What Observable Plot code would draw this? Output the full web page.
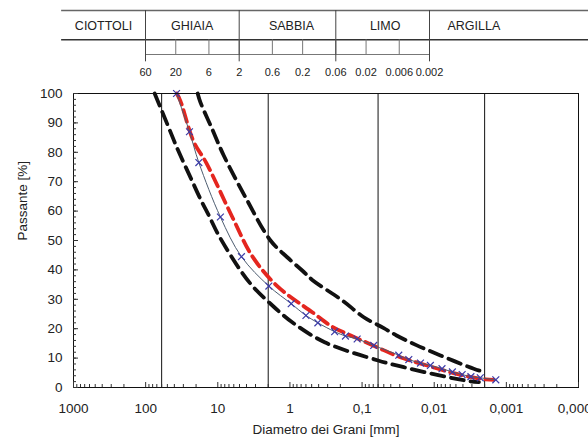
<!DOCTYPE html>
<html><head><meta charset="utf-8">
<script src="https://cdn.jsdelivr.net/npm/d3@7"></script>
<script src="https://cdn.jsdelivr.net/npm/@observablehq/plot@0.6"></script>
<style>
html,body{margin:0;padding:0;background:#fff;overflow:hidden;}
#chart{position:relative;width:588px;height:439px;font-family:"Liberation Sans",Arial,sans-serif;}
#chart svg{display:block;}
</style></head><body><div id="chart"></div>
<script>
// ---- classification table ----
const classNames = ["CIOTTOLI", "GHIAIA", "SABBIA", "LIMO", "ARGILLA"];
const classLabelAt = [275, 11, 0.3, 0.01, 0.0004];
const classBounds = [60, 2, 0.06, 0.002];
const tableEdges = [1260, 0.0000062];
const scaleTicks = [60, 20, 6, 2, 0.6, 0.2, 0.06, 0.02, 0.006, 0.002];
const scaleTickLabels = ["60", "20", "6", "2", "0.6", "0.2", "0.06", "0.02", "0.006", "0.002"];

// ---- main chart axes ----
const xTicks = [1000, 100, 10, 1, 0.1, 0.01, 0.001, 0.0001];
const xTickLabels = ["1000", "100", "10", "1", "0,1", "0,01", "0,001", "0,0001"];
const yTicks = [0, 10, 20, 30, 40, 50, 60, 70, 80, 90, 100];

// ---- series ----
const sampleD = [37.3, 24.7, 18.3, 9.2, 4.7, 1.96, 0.96, 0.60, 0.41, 0.24, 0.17, 0.117, 0.069, 0.031, 0.0225, 0.0155, 0.0113, 0.0078, 0.0056, 0.0041, 0.0031, 0.0023, 0.0014];
const samplePass = [100, 87, 76.5, 58, 44.5, 34.5, 28.5, 24.5, 22, 19, 17.5, 16.5, 14.3, 11, 9.5, 8.3, 7.5, 6.4, 5.3, 4.4, 3.7, 3.3, 2.6];

const meanD = [37, 33, 21.5, 14.5, 6.3, 3.3, 1.5, 0.49, 0.26, 0.132, 0.062, 0.0295, 0.0126, 0.0054, 0.0023, 0.0015];
const meanPass = [100, 97.5, 83.5, 76.5, 58, 44.5, 34.5, 25.6, 20.7, 17.3, 13.7, 10.3, 7.5, 4.9, 3, 2.6];

const upperD = [19, 17.4, 12, 8.3, 4.13, 1.86, 1.09, 0.676, 0.49, 0.188, 0.0946, 0.05, 0.0333, 0.018, 0.0082, 0.00283, 0.002];
const upperPass = [100, 97, 88, 79, 64.7, 50, 44.3, 39.8, 36.6, 29.6, 23.9, 20.2, 17.7, 14.5, 10.9, 6.4, 5.2];

const lowerD = [75, 49, 36, 25, 17, 13.3, 9.68, 4.84, 3.27, 1.96, 0.93, 0.33, 0.06, 0.0264, 0.007, 0.00314, 0.0024];
const lowerPass = [100, 89, 81, 72.5, 63.6, 58.5, 51.7, 39.8, 34.4, 29, 22.2, 15.4, 9.2, 6.9, 3.7, 2.1, 1.8];

const toRows = (ds, ps) => ds.map((d, i) => ({d, p: ps[i]}));
const sample = toRows(sampleD, samplePass);
const mean = toRows(meanD, meanPass);
const upper = toRows(upperD, upperPass);
const lower = toRows(lowerD, lowerPass);

const minorX = [];
for (const dec of [1000, 100, 10, 1, 0.1, 0.01, 0.001]) for (let k = 2; k <= 9; k++) minorX.push(dec / 10 * k);
const minorY = d3.range(0, 101, 2);

const font = "Liberation Sans, Arial, sans-serif";

const table = Plot.plot({
  width: 588, height: 82,
  marginTop: 10, marginBottom: 28, marginLeft: 0, marginRight: 0,
  style: {fontFamily: font, background: "white", color: "#222"},
  x: {type: "log", domain: [scaleTicks[0], scaleTicks[scaleTicks.length - 1]], range: [145, 429], axis: null},
  y: {domain: [0, 3], axis: null},
  marks: [
    Plot.ruleY([3], {x1: tableEdges[0], x2: tableEdges[1], stroke: "#666", strokeWidth: 1.5}),
    Plot.ruleY([1], {x1: tableEdges[0], x2: tableEdges[1], stroke: "#333", strokeWidth: 1.5}),
    Plot.ruleY([0], {x1: scaleTicks[0], x2: scaleTicks[scaleTicks.length - 1], stroke: "#777"}),
    Plot.ruleX(scaleTicks, {y1: 0, y2: 1, stroke: "#777"}),
    Plot.ruleX(classBounds, {y1: -0.5, y2: 3, stroke: "#444"}),
    Plot.text(classNames, {x: (d, i) => classLabelAt[i], y: 2, dy: 1, text: d => d, fontSize: 12.5, fill: "#222"}),
    Plot.text(scaleTickLabels, {x: (d, i) => scaleTicks[i], y: 0, dy: 18, text: d => d, fontSize: 11, fill: "#222"})
  ]
});

const main = Plot.plot({
  width: 588, height: 357,
  marginTop: 11, marginBottom: 52, marginLeft: 73, marginRight: 10,
  style: {fontFamily: font, background: "white", color: "#222"},
  x: {type: "log", domain: [xTicks[0], xTicks[xTicks.length - 1]], axis: null},
  y: {domain: [0, 100], axis: null},
  marks: [
    Plot.ruleX(classBounds, {stroke: "#111", strokeWidth: 1}),
    Plot.line(lower, {x: "d", y: "p", stroke: "#111", strokeWidth: 3.8, strokeDasharray: "13,7", curve: "catmull-rom"}),
    Plot.line(upper, {x: "d", y: "p", stroke: "#111", strokeWidth: 3.8, strokeDasharray: "13,7", curve: "catmull-rom"}),
    Plot.line(mean, {x: "d", y: "p", stroke: "#e4261f", strokeWidth: 3.8, strokeDasharray: "12,6", curve: "catmull-rom"}),
    Plot.line(sample, {x: "d", y: "p", stroke: "#4d5d70", strokeWidth: 1, curve: "catmull-rom"}),
    Plot.dot(sample, {x: "d", y: "p", symbol: "times", r: 3.2, stroke: "#3b3ba8", strokeWidth: 1.2}),
    Plot.frame({stroke: "#111"}),
    Plot.axisX(minorX, {anchor: "bottom", tickSize: 3, dy: -3, fill: "none", stroke: "#333"}),
    Plot.axisX(xTicks, {anchor: "bottom", tickSize: 5, dy: -5, fill: "none", stroke: "#333"}),
    Plot.axisY(minorY, {anchor: "left", tickSize: 3, dx: 3, fill: "none", stroke: "#333"}),
    Plot.axisY(yTicks, {anchor: "left", tickSize: 5, dx: 5, fill: "none", stroke: "#333"}),
    Plot.text(xTicks, {x: d => d, frameAnchor: "bottom", dy: 25, text: (d, i) => xTickLabels[i], fontSize: 13.5, fill: "#222"}),
    Plot.text(yTicks, {y: d => d, frameAnchor: "left", dx: -11, textAnchor: "end", text: d => String(d), fontSize: 13.5, fill: "#222"}),
    Plot.text(["Diametro dei Grani [mm]"], {frameAnchor: "bottom", dy: 46, text: d => d, fontSize: 13.5, fill: "#222"}),
    Plot.text(["Passante [%]"], {frameAnchor: "left", dx: -51, rotate: -90, text: d => d, fontSize: 13.5, fill: "#222"})
  ]
});

const root = document.getElementById("chart");
root.appendChild(table);
root.appendChild(main);
</script></body></html>
